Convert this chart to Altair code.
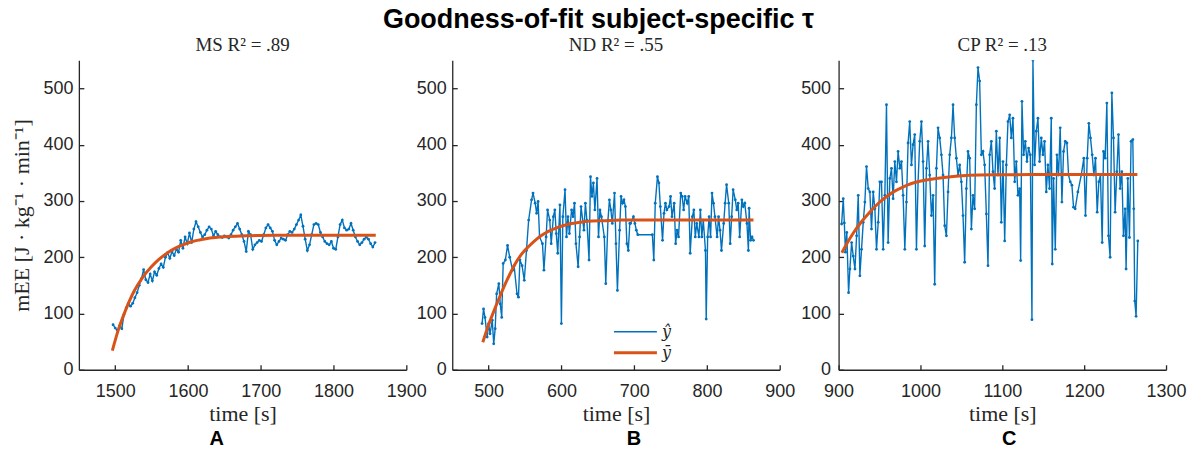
import altair as alt
import pandas as pd

BLUE = "#0072BD"
ORANGE = "#D95319"

# ---------------- Panel A (MS) ----------------
a_t = list(range(1497, 1858, 3))
a_y = [80, 74, 70, 78, 73, 98, 110, 118, 113, 118, 128, 137, 150, 162, 178, 160, 155, 170, 158, 174,
       168, 180, 188, 182, 200, 208, 198, 210, 203, 214, 209, 230, 216, 236, 224, 243, 226, 250, 263, 254,
       244, 236, 240, 248, 254, 250, 238, 246, 240, 236, 235, 238, 236, 234, 240, 248, 254, 260, 250, 240,
       228, 210, 246, 240, 214, 222, 226, 230, 228, 240, 252, 258, 252, 246, 230, 222, 228, 234, 232, 230,
       240, 246, 244, 250, 258, 266, 275, 255, 232, 212, 222, 240, 258, 260, 258, 244, 236, 228, 224, 222,
       228, 216, 214, 236, 258, 266, 252, 248, 250, 260, 248, 236, 228, 222, 226, 232, 236, 232, 224, 218,
       226]
a_fit_t = [1496, 1504, 1513, 1526, 1537, 1549, 1560, 1572, 1584, 1595, 1606, 1617, 1630, 1650, 1680, 1720, 1800, 1858]
a_fit_y = [34, 70, 102, 140, 163, 182, 196, 208, 217, 223, 228, 231, 234, 236.5, 238, 239, 239, 239]

# ---------------- Panel B (ND) ----------------
b_t = [491, 493, 495, 498, 500, 502, 505, 507, 509, 511, 514, 516, 518, 520, 523, 526, 529, 533, 535, 539,
       541, 543, 546, 549, 552, 555, 559, 561, 564, 566, 568, 570, 574, 576, 579, 581, 584, 586, 589, 591,
       593, 595, 598, 600, 602, 605, 607, 609, 611, 614, 616, 618, 620, 623, 625, 627, 631, 633, 635, 638,
       640, 642, 644, 646, 649, 651, 653, 655, 659, 661, 664, 666, 668, 670, 673, 675, 677, 680, 682, 684,
       686, 688, 690, 692, 694, 695, 699, 701, 703, 705, 725, 727, 729, 732, 734, 736, 739, 741, 743, 745,
       748, 750, 752, 755, 757, 759, 761, 764, 766, 768, 770, 773, 775, 777, 780, 782, 784, 786, 789, 791,
       793, 795, 798, 799, 801, 803, 805, 807, 809, 811, 814, 816, 818, 820, 823, 825, 827, 830, 832, 834,
       836, 839, 841, 843, 845, 848, 850, 852, 855, 857, 858, 860, 862, 864]
b_y = [82, 108, 93, 58, 82, 64, 88, 46, 73, 135, 153, 117, 93, 189, 195, 221, 200, 177, 185, 135,
       129, 195, 185, 159, 212, 266, 302, 314, 296, 278, 299, 236, 224, 177, 236, 284, 266, 224, 272, 284,
       242, 207, 293, 82, 272, 320, 236, 272, 242, 284, 272, 296, 224, 183, 236, 290, 248, 296, 266, 195,
       343, 308, 332, 284, 340, 236, 284, 272, 236, 153, 266, 302, 284, 260, 314, 224, 141, 248, 308, 296,
       302, 290, 224, 212, 260, 260, 272, 260, 248, 240, 240, 195, 296, 343, 332, 290, 230, 278, 296, 284,
       290, 308, 272, 296, 224, 248, 236, 314, 308, 284, 308, 296, 308, 207, 272, 284, 236, 260, 236, 284,
       236, 266, 212, 90, 236, 272, 236, 314, 296, 272, 236, 272, 248, 212, 260, 296, 329, 296, 224, 272,
       320, 302, 284, 296, 236, 302, 290, 296, 260, 212, 287, 230, 236, 230]
b_fit_t = [492, 500, 509, 516, 523, 530, 536, 545, 555, 564, 573, 582, 591, 602, 614, 625, 636, 660, 682, 750, 864]
b_fit_y = [49, 80, 110, 132, 153, 172, 187, 205, 219, 230, 239, 246, 251, 256, 260, 262, 264, 265, 266, 266, 266]

# ---------------- Panel C (CP) ----------------
c_t = [903.7, 905.7, 907.0, 908.4, 910.0, 912.2, 913.8, 915.9, 917.9, 920.0, 922.0, 924.0, 926.0, 928.0, 930.1,
       932.1, 934.1, 936.2, 938.2, 940.2, 942.3, 944.3, 946.3, 948.4, 950.4, 952.4, 954.5, 956.5, 958.5, 960.5,
       962.6, 964.6, 966.6, 968.7, 970.7, 972.7, 974.8, 976.8, 978.8, 980.9, 982.9, 984.9, 986.9, 989.0, 991.0,
       993.0, 995.1, 997.1, 999.1, 1001.2, 1003.2, 1005.2, 1007.3, 1009.3, 1011.3, 1013.4, 1015.4, 1017.4, 1019.5,
       1021.5, 1023.5, 1025.6, 1027.6, 1029.6, 1031.7, 1033.7, 1035.7, 1037.8, 1039.8, 1041.8, 1043.9, 1045.9,
       1047.9, 1050.0, 1052.0, 1054.0, 1056.1, 1058.1, 1060.1, 1062.2, 1064.2, 1066.2, 1068.3, 1070.3, 1072.3,
       1074.4, 1076.4, 1078.4, 1080.5, 1082.5, 1084.5, 1086.6, 1088.6, 1090.6, 1092.7, 1094.7, 1096.8, 1098.8,
       1100.8, 1102.9, 1104.9, 1106.9, 1109.0, 1111.0, 1113.0, 1115.1, 1117.1, 1119.1, 1121.2, 1122.4, 1124.0,
       1126.0, 1128.1, 1130.1, 1132.1, 1134.2, 1136.2, 1137.4, 1139.4, 1141.5, 1143.5, 1145.5, 1147.6, 1149.6,
       1151.6, 1153.7, 1155.7, 1157.7, 1159.8, 1161.0, 1162.6, 1164.7, 1166.7, 1168.7, 1170.7, 1172.8, 1174.8,
       1176.9, 1178.9, 1180.9, 1183.0, 1185.0, 1187.0, 1189.0, 1192.3, 1196.4, 1199.6, 1201.6, 1203.7, 1205.7,
       1207.7, 1209.8, 1211.8, 1213.8, 1215.9, 1217.9, 1219.9, 1222.0, 1223.6, 1225.6, 1227.7, 1229.7, 1231.7,
       1233.8, 1235.8, 1237.8, 1239.9, 1241.9, 1243.9, 1246.0, 1248.0, 1250.0, 1251.2, 1253.3, 1255.3, 1257.3,
       1259.4, 1260.6, 1261.8, 1263.4, 1265.5]
c_y = [259, 304, 261, 209, 244, 137, 179, 226, 202, 179, 238, 310, 167, 214, 262,
       298, 361, 322, 316, 250, 316, 286, 214, 262, 334, 334, 214, 310, 471, 226,
       340, 358, 304, 370, 334, 388, 358, 370, 310, 214, 298, 403, 441, 364, 400,
       418, 214, 334, 406, 441, 370, 220, 358, 406, 346, 274, 310, 152, 358,
       430, 412, 382, 346, 256, 238, 316, 382, 412, 471, 412, 376, 346,
       364, 334, 274, 191, 322, 388, 376, 250, 310, 286, 471, 537, 513,
       382, 388, 364, 277, 185, 382, 406, 352, 322, 424, 346, 412, 262,
       370, 229, 364, 441, 453, 412, 447, 334, 370, 310, 322, 194, 477,
       382, 406, 370, 394, 382, 89, 550, 364, 424, 447, 370, 412, 382,
       406, 316, 364, 322, 447, 188, 340, 214, 382, 346, 430, 298, 388,
       406, 403, 346, 334, 328, 289, 286, 316, 346, 376, 274, 376, 438,
       412, 382, 346, 376, 280, 334, 346, 226, 388, 376, 474, 238, 200,
       492, 412, 280, 352, 418, 322, 352, 238, 286, 179, 340, 235, 406,
       409, 286, 122, 95, 229]
c_fit_t = [904, 910, 918, 928, 938, 948, 958, 968, 979, 989, 999, 1019, 1040, 1060, 1097, 1150, 1200, 1265]
c_fit_y = [208, 224, 243, 263, 280, 295, 307, 317, 325, 331, 335, 340, 343.5, 345.5, 346.5, 347, 347, 347]

y_ticks = [0, 100, 200, 300, 400, 500]
legend_labels = ["ŷ", "ȳ"]
TICK = {"expr": "-5"}


def panel(t, y, ft, fy, xdom, xticks, title, letter, letter_x, ytitle=False, legend=False, ylabpad=11):
    d = pd.DataFrame({"t": t, "y": y})
    f = pd.DataFrame({"t": ft, "y": fy})
    xax = alt.Axis(values=xticks, format="d", labelFlush=False, labelOverlap=False, tickSize=TICK,
                   labelPadding=18, titlePadding=3)
    if ytitle:
        yax = alt.Axis(values=y_ticks, format="d", tickSize=TICK, labelPadding=ylabpad, titlePadding=9)
        ytit = "mEE [J · kg⁻¹ · min⁻¹]"
    else:
        yax = alt.Axis(values=y_ticks, format="d", tickSize=TICK, labelPadding=ylabpad)
        ytit = None
    xs = alt.Scale(domain=xdom, nice=False, zero=False)
    ys = alt.Scale(domain=[0, 550], nice=False)
    base = alt.Chart(d).mark_line(
        color=BLUE, strokeWidth=1.4, clip=True,
        point=alt.OverlayMarkDef(color=BLUE, size=8, filled=True, opacity=1),
    ).encode(
        x=alt.X("t:Q", scale=xs, axis=xax, title="time [s]"),
        y=alt.Y("y:Q", scale=ys, axis=yax, title=ytit),
    )
    fit = alt.Chart(f).mark_line(color=ORANGE, strokeWidth=3, interpolate="monotone").encode(
        x="t:Q", y="y:Q"
    )
    lab = alt.Chart(pd.DataFrame({"l": [letter]})).mark_text(
        font="Liberation Sans", fontWeight="bold", fontSize=20, color="#000000", baseline="middle"
    ).encode(text="l:N", x=alt.value(letter_x), y=alt.value(379))
    layers = [base, fit, lab]
    if legend:
        r1 = alt.Chart(pd.DataFrame({"s": [legend_labels[0]]})).mark_rule(color=BLUE, strokeWidth=1.5).encode(
            x=alt.value(162), x2=alt.value(205), y=alt.value(272))
        r2 = alt.Chart(pd.DataFrame({"s": [legend_labels[1]]})).mark_rule(color=ORANGE, strokeWidth=3).encode(
            x=alt.value(162), x2=alt.value(205), y=alt.value(293))
        t1 = alt.Chart(pd.DataFrame({"s": [legend_labels[0]]})).mark_text(
            font="DejaVu Serif", fontStyle="italic", fontSize=16, color="#262626", align="left", baseline="middle"
        ).encode(text="s:N", x=alt.value(210), y=alt.value(272))
        t2 = alt.Chart(pd.DataFrame({"s": [legend_labels[1]]})).mark_text(
            font="DejaVu Serif", fontStyle="italic", fontSize=16, color="#262626", align="left", baseline="middle"
        ).encode(text="s:N", x=alt.value(210), y=alt.value(293))
        layers += [r1, r2, t1, t2]
    return alt.layer(*layers).properties(
        width=328, height=310,
        title=alt.TitleParams(title, font="Liberation Serif", fontSize=19, fontWeight="normal",
                              color="#262626", offset=5),
    )


pA = panel(a_t, a_y, a_fit_t, a_fit_y, [1450, 1900], [1500, 1600, 1700, 1800, 1900],
           "MS R² = .89", "A", 138, ytitle=True)
pB = panel(b_t, b_y, b_fit_t, b_fit_y, [450, 900], [500, 600, 700, 800, 900],
           "ND R² = .55", "B", 182, legend=True)
pC = panel(c_t, c_y, c_fit_t, c_fit_y, [900, 1300], [900, 1000, 1100, 1200, 1300],
           "CP R² = .13", "C", 171, ylabpad=13)

left = alt.hconcat(pA, pB, spacing=-12)
chart = alt.hconcat(left, pC, spacing=4).properties(
    title=alt.TitleParams("Goodness-of-fit subject-specific τ", font="Liberation Sans", fontSize=27,
                          fontWeight="bold", anchor="middle", color="#000000", offset=2),
    padding={"left": 10, "right": 5, "top": 6, "bottom": 0},
).configure_view(stroke=None).configure_axis(
    grid=False, domainColor="#262626", tickColor="#262626", domainWidth=1.3, tickWidth=1.3,
    labelColor="#262626", labelFont="Liberation Sans", labelFontSize=18,
    titleFont="Liberation Serif", titleFontSize=22, titleFontWeight="normal", titleColor="#262626",
)

chart.save("out.html", embed_options={"renderer": "svg", "actions": False})
